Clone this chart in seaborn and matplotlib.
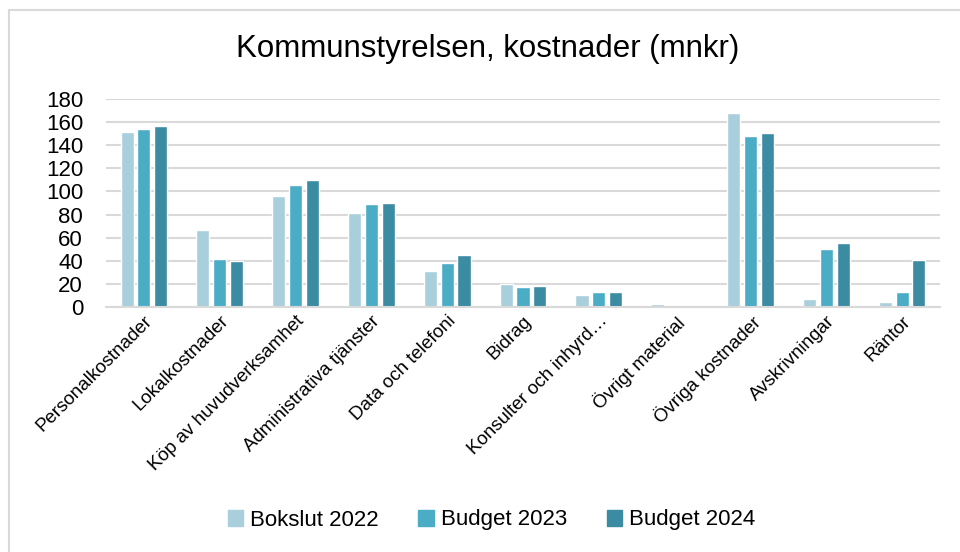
import seaborn as sns
import matplotlib.pyplot as plt
import pandas as pd
from matplotlib.patches import Rectangle

kategorier = ['Personalkostnader', 'Lokalkostnader', 'Köp av huvudverksamhet',
              'Administrativa tjänster', 'Data och telefoni', 'Bidrag',
              'Konsulter och inhyrd…', 'Övrigt material', 'Övriga kostnader',
              'Avskrivningar', 'Räntor']
bokslut_2022 = [151.5, 66.3, 96.1, 81.3, 31.0, 20.3, 10.7, 2.3, 168.0, 7.2, 4.3]
budget_2023 = [154.0, 41.7, 105.4, 88.9, 37.9, 17.7, 12.7, 0.6, 148.2, 50.4, 13.0]
budget_2024 = [156.9, 40.0, 110.0, 89.7, 44.9, 17.8, 12.9, 1.1, 150.8, 55.0, 41.0]
serier = ['Bokslut 2022', 'Budget 2023', 'Budget 2024']
farger = ['#A9CFDC', '#4BACC6', '#3B8BA3']

df = pd.DataFrame({'Kategori': kategorier, serier[0]: bokslut_2022,
                   serier[1]: budget_2023, serier[2]: budget_2024})
df = df.melt(id_vars='Kategori', var_name='Serie', value_name='mnkr')

sns.set_style('white')
plt.rcParams['font.family'] = ['Liberation Sans', 'DejaVu Sans']
plt.rcParams['text.color'] = 'black'
plt.rcParams['xtick.color'] = 'black'
plt.rcParams['ytick.color'] = 'black'

fig = plt.figure(figsize=(9.6, 5.52), dpi=100)
ax = fig.add_axes([106/960, 1 - 307/552, (940 - 106)/960, (307 - 99)/552])
sns.barplot(data=df, x='Kategori', y='mnkr', hue='Serie', palette=farger,
            saturation=1, width=0.665, gap=0.22, ax=ax, legend=False, zorder=2)

ax.set_ylim(0, 180)
ax.set_yticks(range(0, 181, 20))
ax.set_xlim(-0.5, len(kategorier) - 0.5)
ax.yaxis.grid(True, color='#D9D9D9', linewidth=1.5, zorder=0)
ax.set_axisbelow(True)
for s in ['top', 'right', 'left']:
    ax.spines[s].set_visible(False)
ax.spines['bottom'].set_color('#D9D9D9')
ax.spines['bottom'].set_linewidth(1.5)
ax.set_xlabel('')
ax.set_ylabel('')
ax.tick_params(axis='y', labelsize=16, length=0, pad=16.5)
ax.tick_params(axis='x', labelsize=13.5, length=0, pad=4)
plt.setp(ax.get_xticklabels(), rotation=45, ha='right', rotation_mode='anchor')

fig.suptitle('Kommunstyrelsen, kostnader (mnkr)', x=0.508, y=1 - 49/552,
             va='center', fontsize=22.5)

handles = [Rectangle((0, 0), 1, 1, color=c) for c in farger]
fig.legend(handles, serier, loc='center', bbox_to_anchor=(0.512, 1 - 520/552),
           ncol=3, frameon=False, fontsize=16, handlelength=0.7,
           handleheight=0.7, handletextpad=0.3, columnspacing=1.8)

fig.patches.append(Rectangle((9/960, -0.1), 1.1, 1 - 10/552 + 0.1,
                             transform=fig.transFigure, fill=False,
                             edgecolor='#D9D9D9', linewidth=1.5))

fig.savefig('out.png', dpi=100)
